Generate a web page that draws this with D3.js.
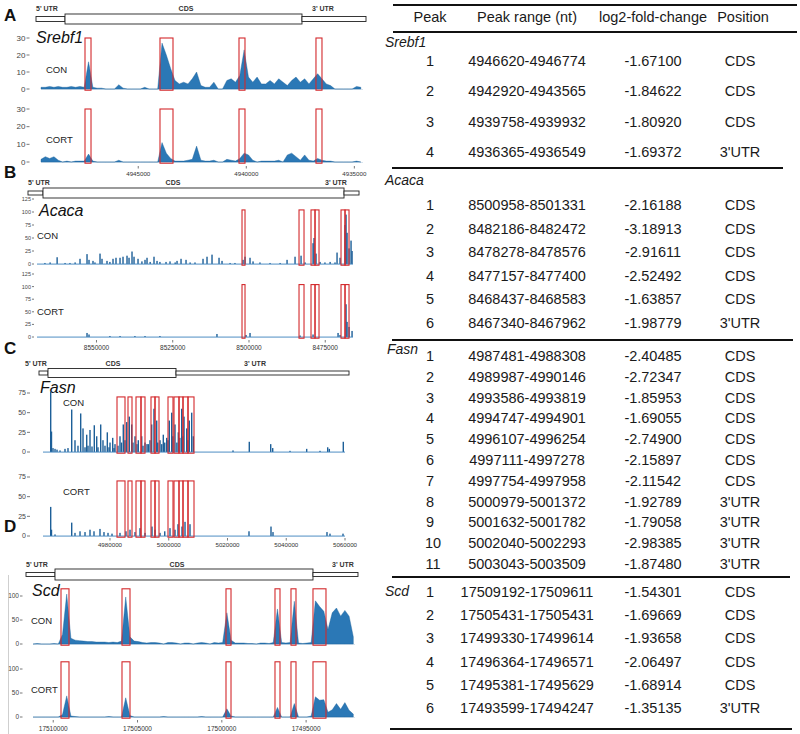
<!DOCTYPE html>
<html><head><meta charset="utf-8">
<script src="https://cdn.jsdelivr.net/npm/d3@7"></script>
<style>
html,body{margin:0;padding:0;background:#fff;}
svg{display:block;font-family:"Liberation Sans",Arial,sans-serif;}
</style></head>
<body><svg id="fig" width="800" height="734"></svg>
<script>
// ================= DATA =================
// ---- Srebf1 (A) ----
const srebf1Domain = [4949500, 4934600];
const srebf1Ticks = [4945000, 4940000, 4935000];
const srebf1YTicks = [0, 10, 20, 30];
const srebf1Gene = [["5' UTR", 4949731, 4948389], ["CDS", 4948389, 4937423], ["3' UTR", 4937423, 4934461]];
const srebf1Boxes = [[4947464, 4947186], [4943994, 4943392], [4940338, 4940061], [4936776, 4936498]];
const srebf1BinStart = 4949500, srebf1BinStep = -200;
const srebf1Con = [1,1,1.5,1,1.5,1,1,1.5,1,1.5,1,16,1,0.5,0.5,0,0,0,2.5,0.5,0,0,0,0,1,0,0,0,27,20,12,5,3,4,3,6,10,2,1,1,4,0,0,5,6,4,8,23,7,4,7,3,3,5,3,6,4,2,5,7,4,6,3,6,9,6,3,2,0,0,0,0,0,1.5,1];
const srebf1Cort = [1.5,3,2,3,1,0,0.5,0,0.5,0.5,0.5,4.5,0.5,0,0,0,0,0,1,0,0,0,0,0,0,0,0,0,11,5,2,0.5,0.5,0.5,1,1.5,9,1,0.5,0.5,1,0,0,1.5,1,0.5,2,5,4,1,0,0.5,0.5,0.5,0.5,1,0,4,5,3,1,4,1,0.5,2,1,0.5,0.5,0,0,0,0,0,0.5,0];

// ---- Acaca (B) ----
const acacaDomain = [8569500, 8465900];
const acacaTicks = [8550000, 8525000, 8500000, 8475000];
const acacaYTicks = [0, 25, 50, 75, 100, 125];
const acacaGene = [["5' UTR", 8572451, 8567533], ["CDS", 8567533, 8468845], ["3' UTR", 8468845, 8463928]];
const acacaBoxes = [[8502287, 8501303], [8483598, 8481959], [8479664, 8478352], [8478352, 8477041], [8469828, 8468516], [8468516, 8467205]];
const acacaCon = [[8566900,2],[8565200,3],[8562900,13],[8560300,2],[8558700,2],[8557000,3],[8555400,10],[8553100,19],[8552450,8],[8551140,6],[8550500,3],[8548840,20],[8548190,10],[8546550,6],[8545600,4],[8544580,10],[8543600,12],[8542280,12],[8541300,14],[8539990,16],[8539330,12],[8538350,24],[8537690,14],[8536380,10],[8535100,5],[8534090,8],[8533430,12],[8532400,4],[8531140,14],[8530150,6],[8529200,4],[8527200,4],[8525890,5],[8524200,3],[8523590,6],[8522280,10],[8520640,8],[8519300,3],[8517700,3],[8515070,10],[8513760,14],[8512120,18],[8509820,12],[8508840,6],[8506200,2],[8504600,2],[8501950,8],[8501300,14],[8499660,12],[8498670,5],[8496400,3],[8493100,2],[8489800,2],[8487520,8],[8484900,14],[8482930,16],[8481600,3],[8479000,40],[8478670,50],[8478020,20],[8476700,4],[8475100,3],[8473400,4],[8471800,3],[8471130,22],[8470150,12],[8468510,75],[8468180,95],[8467850,60],[8467200,30],[8466540,45],[8466210,25]];
const acacaCort = [[8553100,8],[8552450,5],[8545600,2],[8542280,2],[8537400,2],[8534090,2],[8529200,2],[8510500,6],[8500970,4],[8499660,8],[8483260,3],[8479000,5],[8470800,8],[8470150,4],[8468180,65],[8467850,30],[8467200,20],[8466210,12]];

// ---- Fasn (C) ----
const fasnDomain = [4957200, 5060000];
const fasnTicks = [4980000, 5000000, 5020000, 5040000, 5060000];
const fasnYTicks = [0, 25, 50, 75];
const fasnGene = [["5' UTR", 4955838, 4958902], ["CDS", 4958902, 5002474], ["3' UTR", 5002474, 5061364]];
const fasnBoxes = [[4982390,4985113],[4986134,4987496],[4988858,4990560],[4990560,4991921],[4993963,4995325],[4995325,4996687],[4999750,5001452],[5001793,5003495],[5003495,5004856],[5004856,5006558],[5006558,5008601]];
const fasnCon = [[4959820,77],[4960090,26],[4960600,5],[4961290,4],[4961970,3],[4962990,2],[4964690,4],[4965710,5],[4966970,54],[4968090,15],[4969110,8],[4970030,49],[4970820,30],[4971500,6],[4972080,22],[4972520,8],[4973200,28],[4973880,7],[4974660,34],[4975480,20],[4975920,6],[4976840,35],[4977620,15],[4978300,8],[4979090,25],[4979670,6],[4980010,12],[4980930,18],[4981370,5],[4981710,10],[4982730,8],[4983410,20],[4983920,12],[4984530,35],[4985110,15],[4985690,38],[4986580,45],[4987390,35],[4987830,12],[4988520,20],[4989190,10],[4989640,15],[4990800,20],[4991240,8],[4991920,12],[4992600,10],[4993040,10],[4993620,15],[4994200,35],[4994980,55],[4995900,40],[4996260,12],[4997030,15],[4997620,10],[4998150,22],[4998640,12],[4999310,18],[4999750,15],[5000190,40],[5001010,50],[5001410,20],[5002130,35],[5002770,12],[5003260,25],[5003790,18],[5004410,55],[5004820,20],[5005200,45],[5006120,30],[5006520,15],[5007000,40],[5007820,50],[5008360,20],[5021880,2],[5027420,13],[5034710,10],[5035390,5],[5041280,1.5],[5046960,4],[5051490,1.5],[5054110,6],[5054660,4],[5059420,13]];
const fasnCort = [[4959820,37],[4960090,8],[4961290,2],[4966970,17],[4968090,4],[4969800,6],[4971500,5],[4973200,8],[4974560,6],[4976600,9],[4977960,5],[4979330,4],[4980690,3],[4983410,4],[4985450,6],[4986820,8],[4988520,5],[4990220,10],[4991920,4],[4994300,12],[4995330,8],[4997030,4],[4998640,6],[5000430,10],[5002130,8],[5003150,15],[5004520,12],[5005540,18],[5007240,15],[5027320,6],[5034810,12],[5035490,5],[5053870,5],[5054890,3],[5059320,3]];

// ---- Scd (D) ----
const scdDomain = [17511200, 17492100];
const scdTicks = [17510000, 17505000, 17500000, 17495000];
const scdYTicks = [0, 50, 100];
const scdGene = [["5' UTR", 17511615, 17509895], ["CDS", 17509895, 17494592], ["3' UTR", 17494592, 17491923]];
const scdBoxes = [[17509539,17509065],[17505921,17505446],[17499752,17499455],[17496846,17496549],[17495897,17495600],[17494592,17493821]];
const scdBinStart = 17511200, scdBinStep = -250;
const scdCon = [0,1,0,0,0,1,0,20,104,12,8,7,6,5,5,4,4,4,3,4,3,6,98,15,6,5,3,2,3,3,2,0,3,3,2,0,2,2,0,2,3,2,0,3,2,3,65,8,2,2,2,1,1,0,2,2,1,3,73,3,2,3,89,2,1,2,3,90,78,68,30,65,75,58,70,58,15];
const scdCort = [0,0,0,0,0,0,0,5,44,2,1,0,0,0,0,0,0,0,1,0,0,0,40,3,0,0,0,0,0,0,0,1,0,0,0,0,0,0,0,0,1,0,0,0,0,0,17,2,0,0,0,0,0,0,0,0,0,0,20,0,0,0,28,0,0,0,2,42,35,36,10,15,28,16,30,14,6];

// ---- Table ----
const tableHeader = ["Peak", "Peak range (nt)", "log2-fold-change", "Position"];
const tableGenes = ["Srebf1", "Acaca", "Fasn", "Scd"];
const srebf1Ranges = ["4946620-4946774", "4942920-4943565", "4939758-4939932", "4936365-4936549"];
const srebf1Fc = ["-1.67100", "-1.84622", "-1.80920", "-1.69372"];
const srebf1Pos = ["CDS", "CDS", "CDS", "3'UTR"];
const acacaRanges = ["8500958-8501331", "8482186-8482472", "8478278-8478576", "8477157-8477400", "8468437-8468583", "8467340-8467962"];
const acacaFc = ["-2.16188", "-3.18913", "-2.91611", "-2.52492", "-1.63857", "-1.98779"];
const acacaPos = ["CDS", "CDS", "CDS", "CDS", "CDS", "3'UTR"];
const fasnRanges = ["4987481-4988308", "4989987-4990146", "4993586-4993819", "4994747-4994901", "4996107-4996254", "4997111-4997278", "4997754-4997958", "5000979-5001372", "5001632-5001782", "5002040-5002293", "5003043-5003509"];
const fasnFc = ["-2.40485", "-2.72347", "-1.85953", "-1.69055", "-2.74900", "-2.15897", "-2.11542", "-1.92789", "-1.79058", "-2.98385", "-1.87480"];
const fasnPos = ["CDS", "CDS", "CDS", "CDS", "CDS", "CDS", "CDS", "3'UTR", "3'UTR", "3'UTR", "3'UTR"];
const scdRanges = ["17509192-17509611", "17505431-17505431", "17499330-17499614", "17496364-17496571", "17495381-17495629", "17493599-17494247"];
const scdFc = ["-1.54301", "-1.69669", "-1.93658", "-2.06497", "-1.68914", "-1.35135"];
const scdPos = ["CDS", "CDS", "CDS", "CDS", "CDS", "3'UTR"];

// ================= LAYOUT =================
const COV = "#2b78b6", COV_STROKE = "#1d5f98", BOX = "#d3292c";
const svg = d3.select("#fig");

const panels = [
  { letter: "A", letterPos: [4, 21], name: "Srebf1", namePos: [36, 43],
    domain: srebf1Domain, range: [41, 363], ticks: srebf1Ticks, yTicks: srebf1YTicks,
    gene: srebf1Gene, model: { y: 19, thin: 5, thick: 10, labelY: 11, labels: [[36, "start"], [186, "middle"], [312, "start"]] },
    boxes: srebf1Boxes, boxTop: 30,
    tracks: [ { label: "CON", lpos: [46, 73], y0: 89, y1: 38, bins: srebf1Con, start: srebf1BinStart, step: srebf1BinStep },
              { label: "CORT", lpos: [46, 143], y0: 162, y1: 109, bins: srebf1Cort, start: srebf1BinStart, step: srebf1BinStep } ],
    yLabX: 25.5, yTick: [26.5, 29.5], yFont: 8, xAxisY: 166, xLabY: 176, xFont: 6.2 },
  { letter: "B", letterPos: [4, 178], name: "Acaca", namePos: [39, 216],
    domain: acacaDomain, range: [37, 353], ticks: acacaTicks, yTicks: acacaYTicks,
    gene: acacaGene, model: { y: 193, thin: 4, thick: 10, labelY: 185, labels: [[28, "start"], [173, "middle"], [325, "start"]] },
    boxes: acacaBoxes, boxTop: 104,
    tracks: [ { label: "CON", lpos: [37, 239], y0: 264, y1: 199, spikes: acacaCon },
              { label: "CORT", lpos: [37, 315], y0: 337, y1: 274, spikes: acacaCort } ],
    yLabX: 31, yTick: [32, 34], yFont: 5.5, xAxisY: 340, xLabY: 349.5, xFont: 6.5 },
  { letter: "C", letterPos: [4, 354], name: "Fasn", namePos: [40, 393],
    domain: fasnDomain, range: [43, 345], ticks: fasnTicks, yTicks: fasnYTicks,
    gene: fasnGene, model: { y: 373, thin: 4, thick: 9, labelY: 365.5, labels: [[25, "start"], [113, "middle"], [255, "middle"]] },
    boxes: fasnBoxes, boxTop: 70,
    tracks: [ { label: "CON", lpos: [63, 406], y0: 452, y1: 393, spikes: fasnCon },
              { label: "CORT", lpos: [63, 495], y0: 536, y1: 477, spikes: fasnCort } ],
    yLabX: 26, yTick: [27, 30], yFont: 7, xAxisY: 538, xLabY: 546.5, xFont: 6.2 },
  { letter: "D", letterPos: [4, 532], name: "Scd", namePos: [32, 596],
    domain: scdDomain, range: [33, 355], ticks: scdTicks, yTicks: scdYTicks,
    gene: scdGene, model: { y: 574.5, thin: 4, thick: 11, labelY: 566.5, labels: [[26, "start"], [177, "middle"], [332, "start"]] },
    boxes: scdBoxes, boxTop: 115,
    tracks: [ { label: "CON", lpos: [31, 624], y0: 644, y1: 596, bins: scdCon, start: scdBinStart, step: scdBinStep },
              { label: "CORT", lpos: [31, 693], y0: 717, y1: 669, bins: scdCort, start: scdBinStart, step: scdBinStep } ],
    yLabX: 19, yTick: [20, 22.5], yFont: 6.5, xAxisY: 720, xLabY: 731, xFont: 6.5 }
];

// faint vertical line left of panel D
svg.append("line").attr("x1", 8.5).attr("x2", 8.5).attr("y1", 575).attr("y2", 734)
  .attr("stroke", "#cfcfcf").attr("stroke-width", 1);

panels.forEach(p => {
  const g = svg.append("g");
  const x = d3.scaleLinear().domain(p.domain).range(p.range);

  g.append("text").attr("x", p.letterPos[0]).attr("y", p.letterPos[1])
    .attr("font-size", 17).attr("font-weight", "bold").attr("fill", "#111").text(p.letter);

  // gene model
  const m = p.model;
  p.gene.forEach((s, i) => {
    const h = s[0] === "CDS" ? m.thick : m.thin;
    const xa = x(s[1]), xb = x(s[2]);
    g.append("rect").attr("x", Math.min(xa, xb)).attr("y", m.y - h / 2)
      .attr("width", Math.abs(xb - xa)).attr("height", h)
      .attr("fill", "#fff").attr("stroke", "#222").attr("stroke-width", 0.9);
  });
  p.gene.forEach((s, i) => {
    g.append("text").attr("x", m.labels[i][0]).attr("y", m.labelY)
      .attr("text-anchor", m.labels[i][1]).attr("font-size", 7).attr("font-weight", "bold")
      .attr("fill", "#333").text(s[0]);
  });

  g.append("text").attr("x", p.namePos[0]).attr("y", p.namePos[1])
    .attr("font-size", 16).attr("font-style", "italic").attr("fill", "#111").text(p.name);

  p.tracks.forEach(t => {
    const ymax = p.yTicks[p.yTicks.length - 1];
    const y = d3.scaleLinear().domain([0, ymax]).range([t.y0, t.y1]);
    // baseline
    g.append("line").attr("x1", p.range[0]).attr("x2", p.range[1]).attr("y1", t.y0 + 0.5).attr("y2", t.y0 + 0.5)
      .attr("stroke", "#d6e3ee").attr("stroke-width", 1);
    if (t.bins) {
      const pts = t.bins.map((v, i) => [t.start + i * t.step, v]);
      const area = d3.area().x(d => x(d[0])).y0(t.y0).y1(d => y(d[1]));
      g.append("path").datum(pts).attr("d", area)
        .attr("fill", COV).attr("stroke", COV_STROKE).attr("stroke-width", 0.4);
    } else {
      g.selectAll(null).data(t.spikes).enter().append("rect")
        .attr("x", d => x(d[0]) - 0.7).attr("width", 1.4)
        .attr("y", d => y(d[1])).attr("height", d => t.y0 - y(d[1]))
        .attr("fill", COV_STROKE);
      g.append("line").attr("x1", p.range[0]).attr("x2", p.range[1]).attr("y1", t.y0).attr("y2", t.y0)
        .attr("stroke", "#3f86c0").attr("stroke-width", 0.8);
    }
    // boxes
    g.selectAll(null).data(p.boxes).enter().append("rect")
      .attr("x", d => Math.min(x(d[0]), x(d[1]))).attr("width", d => Math.abs(x(d[1]) - x(d[0])))
      .attr("y", y(p.boxTop)).attr("height", t.y0 + 1.2 - y(p.boxTop))
      .attr("fill", "none").attr("stroke", BOX).attr("stroke-width", 1.1);
    // y ticks
    p.yTicks.forEach(v => {
      g.append("line").attr("x1", p.yTick[0]).attr("x2", p.yTick[1]).attr("y1", y(v)).attr("y2", y(v))
        .attr("stroke", "#555").attr("stroke-width", 0.8);
      g.append("text").attr("x", p.yLabX).attr("y", y(v)).attr("dy", "0.35em")
        .attr("text-anchor", "end").attr("font-size", p.yFont).attr("fill", "#444").text(v);
    });
    g.append("text").attr("x", t.lpos[0]).attr("y", t.lpos[1])
      .attr("font-size", 9.5).attr("fill", "#222").text(t.label);
  });

  // x axis
  p.ticks.forEach(v => {
    g.append("line").attr("x1", x(v)).attr("x2", x(v)).attr("y1", p.xAxisY).attr("y2", p.xAxisY + 2.5)
      .attr("stroke", "#555").attr("stroke-width", 0.8);
    g.append("text").attr("x", x(v)).attr("y", p.xLabY).attr("text-anchor", "middle")
      .attr("font-size", p.xFont).attr("fill", "#333").text(v);
  });
});

// ================= TABLE =================
const tg = svg.append("g").attr("font-size", 14.5).attr("fill", "#1a1a1a");
const colX = [430, 527, 653, 740];
function rule(y, x1, x2, w) {
  tg.append("line").attr("x1", x1).attr("x2", x2).attr("y1", y).attr("y2", y)
    .attr("stroke", "#111").attr("stroke-width", w || 1.6);
}
rule(5, 393, 797, 1.8);
tableHeader.forEach((h, i) => {
  tg.append("text").attr("x", colX[i] + (i === 3 ? 3 : 0)).attr("y", 22).attr("text-anchor", "middle").text(h);
});
rule(32, 393, 797, 1.8);

const groups = [
  { gene: tableGenes[0], ranges: srebf1Ranges, fc: srebf1Fc, pos: srebf1Pos, labelPos: [385, 47], first: 61, last: 152, rule: [168, 392, 783] },
  { gene: tableGenes[1], ranges: acacaRanges, fc: acacaFc, pos: acacaPos, labelPos: [385, 185], first: 205, last: 323, rule: [340, 392, 793] },
  { gene: tableGenes[2], ranges: fasnRanges, fc: fasnFc, pos: fasnPos, labelPos: [387, 354], first: 356, last: 564, rule: [577, 392, 790] },
  { gene: tableGenes[3], ranges: scdRanges, fc: scdFc, pos: scdPos, labelPos: [385, 596], first: 592, last: 708, rule: [729, 390, 792] }
];
groups.forEach(gr => {
  tg.append("text").attr("x", gr.labelPos[0]).attr("y", gr.labelPos[1])
    .attr("font-style", "italic").attr("font-size", 14).text(gr.gene);
  const ry = d3.scaleLinear().domain([0, gr.ranges.length - 1]).range([gr.first, gr.last]);
  gr.ranges.forEach((r, i) => {
    const yy = ry(i) + 5;
    tg.append("text").attr("x", colX[0] + (i >= 9 ? 3 : 0)).attr("y", yy).attr("text-anchor", "middle").text(i + 1);
    tg.append("text").attr("x", colX[1]).attr("y", yy).attr("text-anchor", "middle").text(r);
    tg.append("text").attr("x", colX[2]).attr("y", yy).attr("text-anchor", "middle").text(gr.fc[i]);
    tg.append("text").attr("x", colX[3]).attr("y", yy).attr("text-anchor", "middle").text(gr.pos[i]);
  });
  rule(gr.rule[0], gr.rule[1], gr.rule[2], 1.8);
});
</script>
</body></html>
